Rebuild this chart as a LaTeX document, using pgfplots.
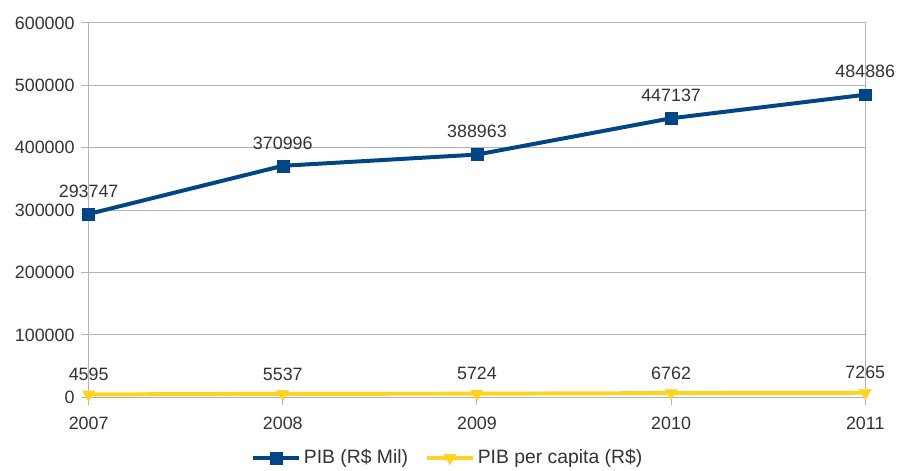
\documentclass[border=0pt]{standalone}
\usepackage{fontspec}
\setmainfont{Liberation Sans}
\usepackage{pgfplots}
\pgfplotsset{compat=1.18}
\definecolor{pibblue}{HTML}{004586}
\definecolor{pibyellow}{HTML}{FFD320}
\definecolor{gridgray}{HTML}{B3B3B3}
\definecolor{txt}{HTML}{333333}
\begin{document}
\fontsize{18}{21}\selectfont
\begin{tikzpicture}
\begin{axis}[
  at={(0,0)}, anchor=south west,
  scale only axis,
  width=780bp, height=376bp,
  xmin=2007, xmax=2011, ymin=0, ymax=600000,
  xtick={2007,2008,2009,2010,2011},
  xticklabels={2007,2008,2009,2010,2011},
  ytick={0,100000,200000,300000,400000,500000,600000},
  yticklabels={0,100000,200000,300000,400000,500000,600000},
  scaled y ticks=false,
  ymajorgrids, grid style={gridgray, line width=1pt},
  axis line style={gridgray, line width=1pt},
  tick style={gridgray, line width=1pt},
  tick align=outside, major tick length=8bp,
  xtick pos=bottom, ytick pos=left,
  ticklabel style={font=\fontsize{18}{21}\selectfont, text=txt},
  xticklabel style={yshift=-6bp},
  clip=false,
  nodes near coords={\pgfmathprintnumber[fixed,precision=0,1000 sep={},assume math mode=true]{\pgfplotspointmeta}},
  nodes near coords align={center},
  every node near coord/.append style={font=\fontsize{18}{21}\selectfont, text=txt, anchor=center, yshift=23bp},
  legend style={at={(0.463,-0.162)}, anchor=center, draw=none, fill=none,
    font=\fontsize{19.5}{22}\selectfont, text=txt, legend columns=2,
    /tikz/every odd column/.append style={column sep=0bp},
    /tikz/every even column/.append style={column sep=14bp},
    nodes={inner xsep=3bp}},
  legend image code/.code={
    \draw[#1, mark repeat=2, mark phase=2] plot coordinates {(0bp,0bp) (23bp,0bp) (46bp,0bp)};
  },
]
\addplot[pibblue, line width=4pt, mark=square*, mark size=6bp, mark options={solid, line width=0.5pt}]
  coordinates {(2007,293747) (2008,370996) (2009,388963) (2010,447137) (2011,484886)};
\addlegendentry{PIB (R\$ Mil)}
\addplot[pibyellow, line width=4pt, mark=triangle*, mark size=7bp, mark options={solid, rotate=180, line width=0.5pt},
  every node near coord/.append style={yshift=-3bp}]
  coordinates {(2007,4595) (2008,5537) (2009,5724) (2010,6762) (2011,7265)};
\addlegendentry{PIB per capita (R\$)}
\end{axis}
\path[use as bounding box] (-89bp,-71bp) rectangle (812bp,399bp);
\end{tikzpicture}
\end{document}
